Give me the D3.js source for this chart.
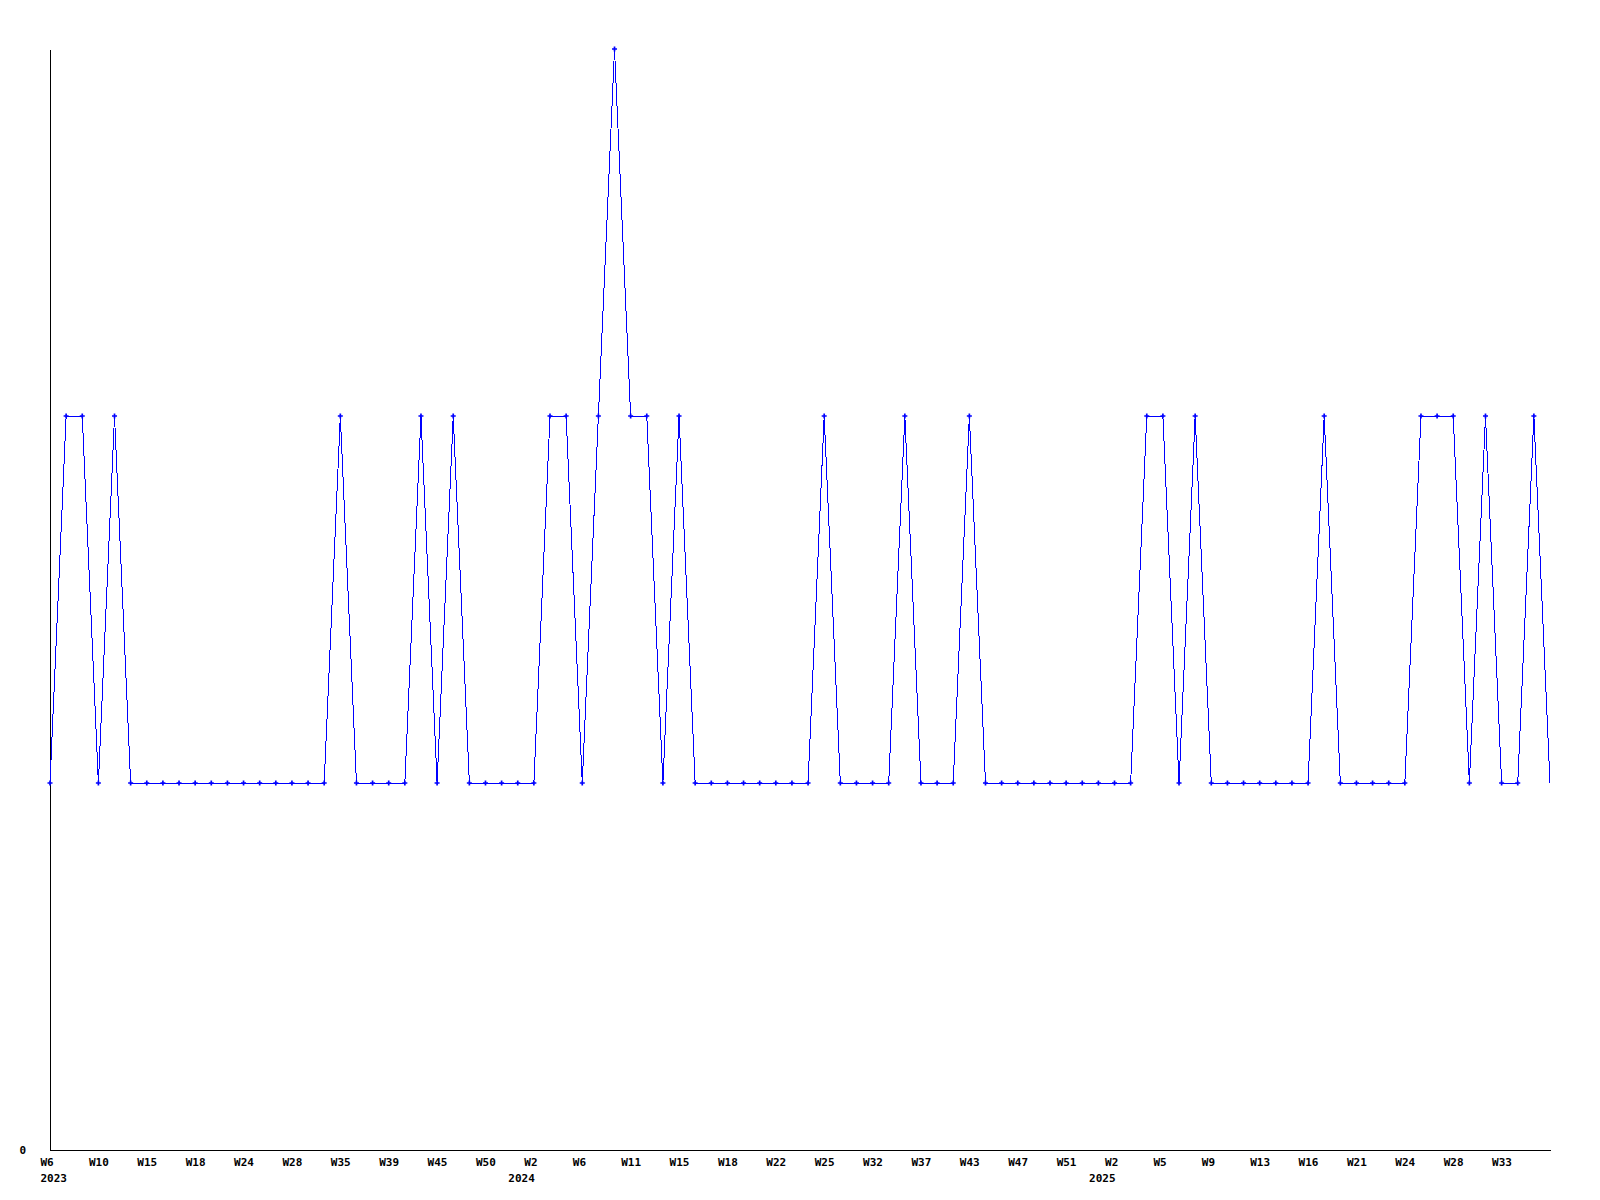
<!DOCTYPE html>
<html>
<head>
<meta charset="utf-8">
<script src="https://cdn.jsdelivr.net/npm/d3@7"></script>
<style>
  html, body { margin: 0; padding: 0; background: #ffffff; }
  svg { display: block; }
  .axis text { font-family: "DejaVu Sans Mono", "Liberation Mono", monospace; font-weight: bold; font-size: 11px; fill: #000; }
  .axis path { stroke: #000; shape-rendering: crispEdges; }
</style>
</head>
<body>
<svg id="chart" width="1600" height="1200"></svg>
<script>
// ---- data ----
const values = [
  1, 2, 2, 1, 2, 1, 1, 1, 1, 1, 1, 1, 1, 1, 1, 1, 1, 1, 2, 1,
  1, 1, 1, 2, 1, 2, 1, 1, 1, 1, 1, 2, 2, 1, 2, 3, 2, 2, 1, 2,
  1, 1, 1, 1, 1, 1, 1, 1, 2, 1, 1, 1, 1, 2, 1, 1, 1, 2, 1, 1,
  1, 1, 1, 1, 1, 1, 1, 1, 2, 2, 1, 2, 1, 1, 1, 1, 1, 1, 1, 2,
  1, 1, 1, 1, 1, 2, 2, 2, 1, 2, 1, 1, 2, 1
];
const weekTickLabels = [
  "W6", "W10", "W15", "W18", "W24", "W28", "W35", "W39", "W45", "W50",
  "W2", "W6", "W11", "W15", "W18", "W22", "W25", "W32", "W37", "W43",
  "W47", "W51", "W2", "W5", "W9", "W13", "W16", "W21", "W24", "W28", "W33"
];
const tickEvery = 3;
const yearLabels = ["2023", "2024", "2025"];
const yearIndices = [0, 30, 66];
const yTickValues = [0];
const yMax = 3;

// ---- chart ----
const svg = d3.select("#chart");
const mLeft = 50, mRight = 1550, mTop = 49, mBottom = 1150;

const indices = values.map((d, i) => i);
const x = d3.scalePoint().domain(indices).range([mLeft, mRight]);
const y = d3.scaleLinear().domain([0, yMax]).range([mBottom, mTop]);

// x axis (week labels)
const weekTickIdx = weekTickLabels.map((d, k) => k * tickEvery);
const xAxis = d3.axisBottom(x)
  .tickValues(weekTickIdx)
  .tickFormat((d) => weekTickLabels[d / tickEvery])
  .tickSize(0).tickSizeOuter(0);
const gx = svg.append("g").attr("class", "axis").attr("transform", `translate(0,${mBottom})`).call(xAxis);
gx.selectAll(".tick text").attr("text-anchor", "start").attr("x", -10).attr("y", 16).attr("dy", 0);

// year labels
const yearAxis = d3.axisBottom(x)
  .tickValues(yearIndices)
  .tickFormat((d) => yearLabels[yearIndices.indexOf(d)])
  .tickSize(0).tickSizeOuter(0);
const gyear = svg.append("g").attr("class", "axis").attr("transform", `translate(0,${mBottom})`).call(yearAxis);
gyear.select(".domain").remove();
gyear.selectAll(".tick text")
  .attr("text-anchor", "start")
  .attr("x", (d) => (x(d) - 26 < 40 ? -10 : -26))
  .attr("y", 32).attr("dy", 0);

// y axis
const yAxis = d3.axisLeft(y).tickValues(yTickValues).tickFormat(d3.format("d")).tickSize(0).tickSizeOuter(0);
const gy = svg.append("g").attr("class", "axis").attr("transform", `translate(${mLeft},0)`).call(yAxis);
gy.selectAll(".tick text").attr("x", -24);

// line
const line = d3.line().x((d, i) => x(i)).y((d) => y(d));
svg.append("path")
  .datum(values)
  .attr("fill", "none")
  .attr("stroke", "#0000ff")
  .attr("stroke-width", 1)
  .attr("shape-rendering", "crispEdges")
  .attr("d", line);

// markers (all but the final point, which sits on the plot edge)
const sym = d3.symbol().type(d3.symbolCross).size(14);
svg.append("g").selectAll("path")
  .data(values.slice(0, values.length - 1))
  .join("path")
  .attr("transform", (d, i) => `translate(${x(i)},${y(d)})`)
  .attr("d", sym)
  .attr("fill", "#0000ff");
</script>
</body>
</html>
